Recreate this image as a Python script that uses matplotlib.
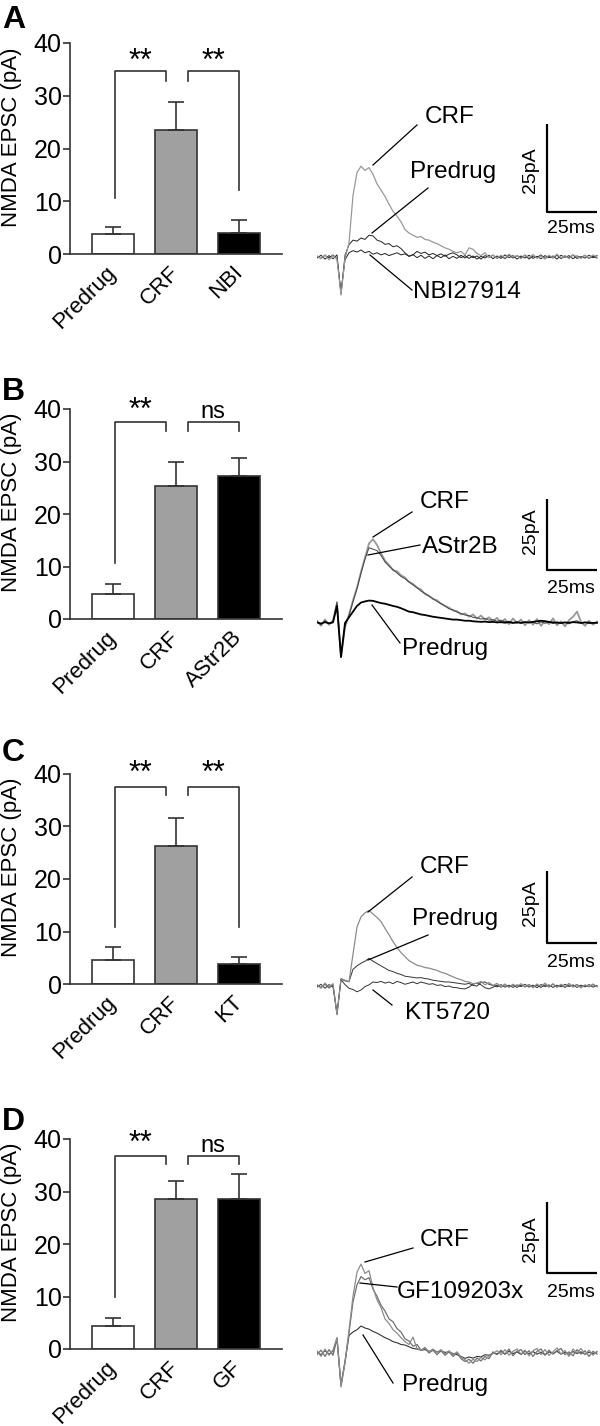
import numpy as np
import matplotlib
matplotlib.use("Agg")
import matplotlib.pyplot as plt
from matplotlib.lines import Line2D

plt.rcParams['font.family'] = ['Liberation Sans', 'DejaVu Sans']

W, H = 600, 1426

# ---- bar chart data (mean, upper SEM) ----
cat_A = ["Predrug", "CRF", "NBI"]
mean_A = [3.8, 23.5, 4.0]
sem_A = [1.4, 5.4, 2.4]
sig_A = ["**", "**"]

cat_B = ["Predrug", "CRF", "AStr2B"]
mean_B = [4.7, 25.4, 27.3]
sem_B = [2.0, 4.6, 3.4]
sig_B = ["**", "ns"]

cat_C = ["Predrug", "CRF", "KT"]
mean_C = [4.6, 26.2, 3.9]
sem_C = [2.4, 5.4, 1.3]
sig_C = ["**", "**"]

cat_D = ["Predrug", "CRF", "GF"]
mean_D = [4.3, 28.6, 28.6]
sem_D = [1.6, 3.4, 4.8]
sig_D = ["**", "ns"]

bar_colors = ["white", "#a0a0a0", "black"]

# ---- example traces (pA), sampled every 2 ms from trace start ----
dt = 2.0
a_crf = [0.3, -0.5, 0.6, -0.8, 0.4, -0.6, -10.8, -0.5, 4.0, 17.5, 24.0, 25.8, 24.6, 25.4, 23.5, 20.8,
         19.0, 17.2, 15.0, 13.0, 11.6, 10.0, 7.8, 6.8, 6.2, 5.6, 5.8, 5.0, 4.8, 4.2, 3.8, 3.2, 2.6, 2.2,
         1.6, 1.2, 1.6, 0.6, 2.6, 2.2, 1.0, 0.4, 1.2, -0.2, 0.6, -0.4, 0.5, -0.3, 0.8, 0.0, 0.4, -0.5,
         0.6, -0.2, 0.7, -0.4, 0.3, -0.6, 0.5, -0.2, 0.8, -0.3, 0.4, -0.5, 0.6, 0.1, -0.4, 0.5, -0.3, 0.6, 0.0]
a_pre = [-0.3, 0.5, -0.6, 0.4, -0.5, 0.6, -10.5, 0.5, 3.5, 4.8, 4.5, 5.4, 5.0, 6.2, 6.0, 4.8, 4.4, 3.6,
         3.8, 2.9, 3.2, 2.4, 1.2, 0.2, 0.6, 1.6, 1.0, 1.4, 0.6, 1.0, 0.4, 0.9, 0.2, 0.8, 1.2, 0.6, -0.2,
         0.4, -0.4, 0.3, -0.6, 0.2, -0.3, 0.5, -0.5, 0.3, -0.4, 0.6, -0.2, 0.4, -0.6, 0.3, -0.3, 0.5,
         -0.4, 0.2, -0.5, 0.4, -0.2, 0.3, -0.6, 0.5, -0.1, 0.4, -0.5, 0.3, -0.2, 0.5, -0.4, 0.2, -0.3]
a_nbi = [0.2, -0.4, 0.5, -0.3, 0.6, -0.5, -10.0, -0.8, 1.2, 1.8, 1.4, 2.0, 1.2, 1.6, 0.8, 1.2, 0.6, 1.0,
         0.4, 0.8, 1.2, 0.6, 0.9, 0.2, 0.7, -0.2, 0.5, -0.4, 0.3, -0.5, 0.4, -0.2, 0.6, -0.5, 0.2, -0.4,
         0.5, -0.3, 0.6, -0.2, 0.3, -0.6, 0.4, -0.1, 0.5, -0.4, 0.2, -0.5, 0.6, -0.3, 0.4, -0.2, 0.5,
         -0.6, 0.3, -0.1, 0.6, -0.4, 0.2, -0.3, 0.5, -0.5, 0.3, -0.2, 0.6, -0.4, 0.1, -0.3, 0.5, -0.2, 0.4]

b_crf = [0.8, -1.0, 1.2, -0.6, 0.9, 7.0, -12.0, -1.5, 3.0, 8.0, 12.5, 18.0, 23.0, 28.0, 29.5, 27.5,
         24.5, 22.0, 20.5, 18.6, 18.2, 16.8, 16.0, 14.5, 13.8, 12.5, 11.8, 10.2, 9.6, 8.4, 8.0, 6.8, 6.0,
         5.4, 4.4, 4.2, 3.0, 3.4, 2.2, 3.0, 1.6, 2.6, 1.2, 2.0, 0.6, 1.8, 0.2, 1.4, -0.4, 1.6, 0.0, 1.2,
         -0.8, 1.0, -0.6, 1.4, -1.0, 0.8, -0.4, 1.6, -0.8, 0.6, -1.2, 1.0, 2.2, 4.0, 0.4, -1.0, 0.8, -0.6, 0.5]
b_astr = [0.4, -0.6, 0.8, -0.3, 0.5, 7.5, -11.5, -1.0, 2.6, 7.4, 12.0, 17.5, 22.5, 26.5, 26.0, 25.5,
          23.8, 21.5, 20.0, 18.8, 17.6, 16.4, 15.6, 14.4, 13.4, 12.4, 11.2, 10.4, 9.4, 8.6, 7.6, 6.8, 6.0,
          5.0, 4.6, 3.8, 3.4, 2.8, 2.6, 2.0, 1.8, 1.4, 1.6, 1.0, 1.2, 0.6, 1.0, 0.4, 0.6, 0.2, 0.5, -0.2,
          0.4, 0.0, 0.3, -0.3, 0.4, -0.1, 0.3, -0.2, 0.4, 0.0, 0.2, -0.3, 0.5, 0.8, 0.0, 0.3, -0.2, 0.2, 0.0]
b_pre = [0.2, -0.2, 0.3, -0.1, 0.2, 6.0, -12.0, 0.0, 2.0, 4.0, 6.0, 7.2, 7.6, 7.9, 7.8, 7.4, 7.0, 6.8,
         6.4, 6.0, 5.7, 5.2, 4.6, 4.0, 3.8, 3.4, 3.0, 2.8, 2.5, 2.2, 2.0, 1.8, 1.6, 1.4, 1.2, 1.2, 1.0,
         0.8, 0.8, 0.6, 0.5, 0.4, 0.5, 0.3, 0.4, 0.2, 0.3, 0.1, 0.3, 0.0, 0.2, 0.1, 0.3, 0.2, 0.4, 0.6,
         0.8, 0.6, 0.4, 0.2, 0.1, 0.0, 0.2, 0.1, 0.3, 0.2, 0.0, 0.2, 0.1, 0.0, 0.1]

c_crf = [0.5, -0.8, 1.0, -0.4, 0.8, -10.0, 2.6, 2.0, 1.5, 11.0, 20.5, 24.0, 25.4, 26.2, 25.0, 23.8,
         22.4, 20.0, 17.8, 15.4, 13.4, 11.6, 10.2, 8.8, 8.0, 7.2, 6.9, 6.4, 6.2, 5.8, 5.4, 4.8, 4.4, 3.8,
         3.2, 2.6, 2.2, 1.6, 1.4, 0.8, 1.0, 1.6, 0.4, 1.2, 0.2, 0.9, -0.3, 0.7, -0.5, 0.6, -0.2, 0.8,
         -0.4, 0.5, -0.6, 0.7, -0.2, 1.0, -0.4, 0.8, -0.5, 0.6, -0.3, 0.9, -0.4, 0.5, -0.6, 0.4, -0.2, 0.7, -0.3]
c_pre = [-0.4, 0.6, -0.8, 0.5, -0.3, -9.5, 2.4, 1.8, 1.5, 5.8, 7.0, 7.9, 8.6, 9.6, 8.6, 7.8, 7.0, 6.2,
         5.4, 5.0, 4.4, 4.0, 3.4, 3.2, 3.0, 2.8, 2.9, 2.6, 2.4, 2.0, 1.8, 1.6, 1.4, 1.4, 1.2, 1.0, 0.8,
         0.6, 0.9, 0.2, 0.0, 1.2, 1.4, 0.6, 0.2, -0.3, 0.5, -0.4, 0.3, -0.5, 0.4, -0.2, 0.6, -0.4, 0.3,
         -0.6, 0.5, -0.2, 0.4, -0.5, 0.3, -0.3, 0.6, -0.2, 0.4, -0.5, 0.3, -0.3, 0.5, -0.4, 0.2]
c_kt = [0.3, -0.5, 0.6, -0.7, 0.4, -9.8, 2.2, 0.5, -0.8, -1.2, -2.0, -1.4, -0.2, 0.4, 1.4, 1.2, 1.6,
        1.0, 1.4, 0.8, 1.6, 1.2, 0.6, 1.0, 1.4, 0.8, 1.4, 1.0, 0.6, 0.8, 0.2, 0.4, -0.2, 0.0, -0.5, -0.6,
        -0.9, -1.0, -0.4, 0.6, 1.0, 0.4, -0.6, -1.0, -0.4, 0.3, -0.4, 0.5, -0.3, 0.4, -0.5, 0.3, -0.2,
        0.5, -0.4, 0.2, -0.5, 0.4, -0.3, 0.6, -0.2, 0.3, -0.5, 0.4, -0.1, 0.5, -0.4, 0.2, -0.3, 0.5, -0.2]

d_crf = [0.8, -1.2, 1.4, -0.8, 1.0, 5.5, -12.0, -3.5, 8.0, 20.0, 28.5, 31.3, 28.0, 29.0, 23.0, 18.7,
         16.0, 12.0, 10.4, 8.2, 7.0, 5.4, 4.0, 3.0, 5.6, 1.6, 1.0, 2.0, 0.4, 1.4, 0.2, 1.2, -0.4, 0.8,
         -0.6, 0.4, -1.4, -2.4, -3.6, -2.2, -3.0, -1.6, -2.4, -1.0, -0.2, 0.8, -0.6, 1.2, -0.8, 0.6, 1.4,
         -0.4, 1.0, -1.0, 0.8, 1.6, -0.6, 1.2, -0.8, 0.4, 1.8, -0.4, 0.9, -1.2, 1.4, 0.0, 1.6, -0.6, 1.0, -0.8, 0.6]
d_gf = [-0.6, 1.0, -1.2, 1.2, -0.8, 5.0, -11.0, -3.0, 7.0, 18.0, 24.0, 26.9, 25.8, 26.5, 22.5, 20.0,
        16.8, 14.8, 12.0, 11.0, 8.6, 7.4, 5.0, 4.2, 2.4, 3.0, 1.0, 1.6, 0.0, 1.0, -0.6, 0.8, -0.8, 0.4,
        -1.2, 0.0, -2.0, -3.0, -2.2, -3.6, -1.8, -2.8, -1.2, -2.0, 0.4, -0.6, 1.0, -0.4, 1.4, -1.0, 0.6,
        1.2, -0.6, 0.8, -1.2, 0.6, 1.4, -0.8, 1.0, -0.4, 0.8, 1.6, -0.6, 0.4, -1.0, 1.2, -0.4, 0.8, -1.2, 0.6, -0.4]
d_pre = [0.4, -0.6, 0.8, -0.4, 0.6, 5.0, -11.5, -3.2, 6.2, 7.4, 8.2, 9.5, 8.8, 8.4, 7.6, 7.0, 6.2, 5.4,
         4.8, 4.0, 3.6, 3.0, 2.8, 2.2, 1.6, 1.4, 1.0, 1.2, 0.6, 1.0, 0.4, 0.8, 0.2, 0.4, -0.2, -0.6, -1.2,
         -1.9, -1.4, -1.8, -1.2, -1.4, -0.6, -0.8, 0.0, -0.3, 0.5, -0.4, 0.6, -0.2, 0.4, -0.5, 0.6, -0.3,
         0.5, -0.4, 0.3, -0.6, 0.4, -0.2, 0.6, -0.4, 0.3, -0.5, 0.5, -0.2, 0.4, -0.5, 0.3, -0.2, 0.4]

fig = plt.figure(figsize=(W / 100, H / 100), dpi=100)


def px_axes(x0, y0, x1, y1):
    return fig.add_axes([x0 / W, 1 - y1 / H, (x1 - x0) / W, (y1 - y0) / H])


def px_line(x0, y0, x1, y1, lw=0.9):
    fig.add_artist(Line2D([x0 / W, x1 / W], [1 - y0 / H, 1 - y1 / H],
                          transform=fig.transFigure, color="black", lw=lw))


def px_text(x, y, s, **kw):
    fig.text(x / W, 1 - y / H, s, **kw)


panels = [
    dict(letter="A", lb=28, top=43, bot=254, cats=cat_A, mean=mean_A, sem=sem_A, sig=sig_A,
         btop=34.6, legs=(10.6, 32.8, 32.8, 12.2), soff=0.3,
         tr=dict(top=95, bot=310, base=257, s=88 / 25, corner=212),
         traces=[(a_pre, "#222222", 0.7), (a_nbi, "#222222", 0.7), (a_crf, "#999999", 0.9)],
         labels=[("CRF", 425, 123, (417, 125, 373, 165)),
                 ("Predrug", 410, 178, (428, 188, 372, 233)),
                 ("NBI27914", 413, 298, (412, 290, 370, 255))],
         pa=170, ms=233),
    dict(letter="B", lb=400, top=409, bot=619, cats=cat_B, mean=mean_B, sem=sem_B, sig=sig_B,
         btop=37.5, legs=(10.6, 35.9, 35.9, 35.9), soff=0.7,
         tr=dict(top=470, bot=680, base=623, s=71 / 25, corner=570),
         traces=[(b_crf, "#999999", 1.3), (b_astr, "#444444", 0.7), (b_pre, "#000000", 1.3)],
         labels=[("CRF", 420, 508, (412, 512, 373, 537)),
                 ("AStr2B", 422, 553, (420, 545, 368, 555)),
                 ("Predrug", 402, 655, (400, 643, 372, 605))],
         pa=531, ms=593),
    dict(letter="C", lb=761, top=774, bot=984, cats=cat_C, mean=mean_C, sem=sem_C, sig=sig_C,
         btop=37.6, legs=(10.8, 36.0, 36.0, 10.8), soff=0.9,
         tr=dict(top=840, bot=1040, base=986, s=72 / 25, corner=943),
         traces=[(c_pre, "#333333", 0.7), (c_kt, "#333333", 0.7), (c_crf, "#8c8c8c", 0.9)],
         labels=[("CRF", 420, 873, (412, 877, 368, 912)),
                 ("Predrug", 412, 925, (428, 935, 368, 960)),
                 ("KT5720", 405, 1019, (392, 1005, 373, 990))],
         pa=903, ms=967),
    dict(letter="D", lb=1130, top=1139, bot=1349, cats=cat_D, mean=mean_D, sem=sem_D, sig=sig_D,
         btop=36.8, legs=(9.9, 35.2, 35.2, 35.2), soff=0.8,
         tr=dict(top=1190, bot=1410, base=1353, s=71 / 25, corner=1273),
         traces=[(d_pre, "#333333", 0.8), (d_gf, "#707070", 0.9), (d_crf, "#8c8c8c", 0.9)],
         labels=[("CRF", 420, 1246, (413, 1248, 365, 1262)),
                 ("GF109203x", 397, 1298, (397, 1287, 360, 1283)),
                 ("Predrug", 402, 1391, (393, 1383, 363, 1335))],
         pa=1239, ms=1297),
]

edge = "#333333"
for p in panels:
    # ---- bar chart ----
    ax = px_axes(70, p["top"], 282, p["bot"])
    x = np.arange(len(p["cats"]))
    ax.bar(x, p["mean"], width=0.67, color=bar_colors, edgecolor=edge, linewidth=1.2, zorder=2)
    ax.errorbar(x, p["mean"], yerr=[np.zeros(len(x)), p["sem"]], fmt="none", ecolor=edge,
                elinewidth=1.2, capsize=5.5, capthick=1.2, zorder=3)
    ax.set_xlim(-0.675, 2.675)
    ax.set_ylim(0, 40)
    ax.set_yticks([0, 10, 20, 30, 40])
    for side in ["top", "right"]:
        ax.spines[side].set_visible(False)
    for side in ["left", "bottom"]:
        ax.spines[side].set_color(edge)
        ax.spines[side].set_linewidth(1.2)
    ax.tick_params(axis="y", length=5, width=1.2, color=edge, labelsize=18, pad=1)
    ax.tick_params(axis="x", length=0, labelsize=16, pad=11)
    ax.set_xticks(x)
    ax.set_xticklabels(p["cats"], rotation=45, ha="right", va="center", rotation_mode="anchor")
    ax.set_ylabel("NMDA EPSC (pA)", fontsize=16)
    ax.yaxis.set_label_coords(-0.225, 0.555)

    l0, l1, r0, r1 = p["legs"]
    for (xa, xb, ya, yb), s in zip([(0.03, 0.84, l0, l1), (1.19, 1.99, r0, r1)], p["sig"]):
        ax.plot([xa, xa, xb, xb], [ya, p["btop"], p["btop"], yb], color=edge, lw=1.2,
                clip_on=False, zorder=4)
        ax.text((xa + xb) / 2, p["btop"] + p["soff"], s, ha="center", va="baseline",
                fontsize=22 if s == "**" else 17)

    px_text(2, p["lb"], p["letter"], fontsize=23, fontweight="bold", va="baseline")

    # ---- example traces ----
    tr = p["tr"]
    tax = px_axes(317, tr["top"], 600, tr["bot"])
    tax.set_xlim(0, (600 - 317) / 2)
    tax.set_ylim(-(tr["bot"] - tr["base"]) / tr["s"], (tr["base"] - tr["top"]) / tr["s"])
    tax.axis("off")
    for vals, col, lw in p["traces"]:
        t = np.arange(len(vals)) * dt
        tax.plot(t, vals, color=col, lw=lw)
    y0 = (tr["base"] - tr["corner"]) / tr["s"]
    tax.plot([115, 115, 140], [y0 + 25, y0, y0], color="black", lw=1.6, solid_capstyle="butt")

    for s, lx, ly, (x0, y0p, x1, y1p) in p["labels"]:
        px_text(lx, ly, s, fontsize=17.5, va="baseline", ha="left")
        px_line(x0, y0p, x1, y1p)
    px_text(530, p["pa"], "25pA", fontsize=14, rotation=90, ha="center", va="center")
    px_text(547, p["ms"], "25ms", fontsize=14, ha="left", va="baseline")

fig.savefig("out.png", dpi=100)
